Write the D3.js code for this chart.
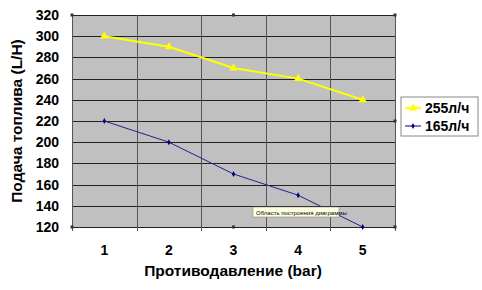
<!DOCTYPE html>
<html>
<head>
<meta charset="utf-8">
<script src="https://cdn.jsdelivr.net/npm/d3@7"></script>
<style>
  body { margin: 0; background: #fff; }
  text { font-family: Arial, "Liberation Sans", sans-serif; }
</style>
</head>
<body>
<svg id="chart" width="482" height="290"></svg>
<script>
var categories = ["1", "2", "3", "4", "5"];
var series255 = [300, 290, 270, 260, 240];
var series165 = [220, 200, 170, 150, 120];
var yTicks = [120, 140, 160, 180, 200, 220, 240, 260, 280, 300, 320];
var seriesNames = ["255л/ч", "165л/ч"];

var svg = d3.select("#chart");
var plotLeft = 72, plotRight = 395, plotTop = 15, plotBottom = 227;

var x = d3.scaleBand().domain(categories).range([plotLeft, plotRight]);
var y = d3.scaleLinear().domain([120, 320]).range([plotBottom, plotTop]);

// plot background
svg.append("rect")
  .attr("x", plotLeft).attr("y", plotTop)
  .attr("width", plotRight - plotLeft).attr("height", plotBottom - plotTop)
  .attr("fill", "#c0c0c0");

// horizontal grid
svg.selectAll(".hgrid").data(yTicks).enter().append("line")
  .attr("x1", plotLeft).attr("x2", plotRight)
  .attr("y1", function(d) { return Math.round(y(d)) + 0.5; })
  .attr("y2", function(d) { return Math.round(y(d)) + 0.5; })
  .attr("stroke", "#222").attr("stroke-width", 1);

// vertical grid at band boundaries
var bounds = categories.map(function(c) { return x(c); }).concat([plotRight]);
svg.selectAll(".vgrid").data(bounds).enter().append("line")
  .attr("x1", function(d) { return Math.round(d) + 0.5; })
  .attr("x2", function(d) { return Math.round(d) + 0.5; })
  .attr("y1", plotTop).attr("y2", plotBottom + 4)
  .attr("stroke", "#555").attr("stroke-width", 1);

// y tick labels
svg.selectAll(".ylab").data(yTicks).enter().append("text")
  .attr("x", 59).attr("y", function(d) { return y(d) + 5; })
  .attr("text-anchor", "end")
  .attr("font-size", 14).attr("font-weight", "bold")
  .text(function(d) { return d; });

// x tick labels
svg.selectAll(".xlab").data(categories).enter().append("text")
  .attr("x", function(d) { return x(d) + x.bandwidth() / 2; })
  .attr("y", 255)
  .attr("text-anchor", "middle")
  .attr("font-size", 14).attr("font-weight", "bold")
  .text(function(d) { return d; });

// axis titles
svg.append("text")
  .attr("x", 233).attr("y", 276)
  .attr("text-anchor", "middle")
  .attr("font-size", 15.5).attr("font-weight", "bold")
  .text("Противодавление (bar)");
svg.append("text")
  .attr("transform", "translate(22,121) rotate(-90)")
  .attr("text-anchor", "middle")
  .attr("font-size", 15.5).attr("font-weight", "bold")
  .text("Подача топлива (L/H)");

var line = d3.line()
  .x(function(d, i) { return x(categories[i]) + x.bandwidth() / 2; })
  .y(function(d) { return y(d); });

// 255 series (yellow, triangles)
svg.append("path").datum(series255)
  .attr("d", line).attr("fill", "none")
  .attr("stroke", "#ffff00").attr("stroke-width", 2);
svg.selectAll(".m255").data(series255).enter().append("path")
  .attr("d", d3.symbol().type(d3.symbolTriangle).size(30))
  .attr("transform", function(d, i) {
    return "translate(" + (x(categories[i]) + x.bandwidth() / 2) + "," + y(d) + ")";
  })
  .attr("fill", "#ffff00");

// 165 series (navy, diamonds)
svg.append("path").datum(series165)
  .attr("d", line).attr("fill", "none")
  .attr("stroke", "#202090").attr("stroke-width", 1);
svg.selectAll(".m165").data(series165).enter().append("path")
  .attr("d", d3.symbol().type(d3.symbolDiamond).size(10))
  .attr("transform", function(d, i) {
    return "translate(" + (x(categories[i]) + x.bandwidth() / 2) + "," + y(d) + ")";
  })
  .attr("fill", "#000080");

// selection handles of the plot area
var mid = (plotLeft + plotRight) / 2, vmid = (plotTop + plotBottom) / 2;
var handles = [[plotLeft, plotTop], [mid, plotTop], [plotRight, plotTop], [plotRight, vmid],
               [plotRight, plotBottom], [mid, plotBottom], [plotLeft, plotBottom]];
svg.selectAll(".handle").data(handles).enter().append("rect")
  .attr("x", function(d) { return d[0] - 1.5; })
  .attr("y", function(d) { return d[1] - 1.5; })
  .attr("width", 3).attr("height", 3)
  .attr("fill", "#333");

// tooltip
var tip = svg.append("g").attr("transform", "translate(253,207)");
tip.append("rect").attr("width", 86).attr("height", 10)
  .attr("fill", "#ffffe1").attr("stroke", "#777").attr("stroke-width", 0.5);
tip.append("text").attr("x", 3).attr("y", 7.5)
  .attr("font-size", 6).attr("fill", "#000")
  .text("Область построения диаграммы");

// legend
var leg = svg.append("g").attr("transform", "translate(401,97)");
leg.append("rect").attr("width", 77).attr("height", 39)
  .attr("fill", "#fff").attr("stroke", "#888").attr("stroke-width", 1);
var legColors = ["#ffff00", "#000080"];
var legSyms = [d3.symbolTriangle, d3.symbolDiamond];
seriesNames.forEach(function(name, i) {
  var cy = 11 + i * 18;
  leg.append("line").attr("x1", 4).attr("x2", 20).attr("y1", cy).attr("y2", cy)
    .attr("stroke", legColors[i]).attr("stroke-width", i == 0 ? 2 : 1);
  leg.append("path")
    .attr("d", d3.symbol().type(legSyms[i]).size(i == 0 ? 30 : 10))
    .attr("transform", "translate(12," + cy + ")")
    .attr("fill", legColors[i]);
  leg.append("text").attr("x", 24).attr("y", cy + 5)
    .attr("font-size", 14).attr("font-weight", "bold")
    .text(name);
});
</script>
</body>
</html>
